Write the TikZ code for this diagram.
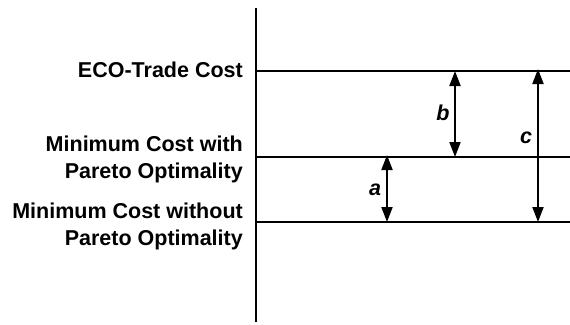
\documentclass[tikz,border=0pt]{standalone}
\usepackage{fontspec}
\setmainfont{Liberation Sans}
\usetikzlibrary{arrows.meta}
\begin{document}
\begin{tikzpicture}[x=1pt,y=-1pt,
  axisline/.style={line width=2.2pt},
  levelline/.style={line width=2.2pt},
  dimarrow/.style={line width=1.9pt,{Triangle[length=15pt,width=11pt]}-{Triangle[length=15pt,width=11pt]}},
  lbl/.style={font=\fontsize{21.5}{27}\selectfont\bfseries,align=right,anchor=east,inner sep=0pt},
  varlbl/.style={font=\fontsize{21.5}{27}\selectfont\bfseries\itshape,inner sep=0pt}]
\useasboundingbox (0,0) rectangle (570,324);
% axis
\coordinate (axT) at (256,8);
\coordinate (axB) at (256,322);
\draw[axisline] (axT) -- (axB);
% levels
\coordinate (L1a) at (256,71);  \coordinate (L1b) at (570,71);
\coordinate (L2a) at (256,157); \coordinate (L2b) at (570,157);
\coordinate (L3a) at (256,222); \coordinate (L3b) at (570,222);
\draw[levelline] (L1a) -- (L1b);
\draw[levelline] (L2a) -- (L2b);
\draw[levelline] (L3a) -- (L3b);
% arrows
\coordinate (bT) at (455,71);  \coordinate (bB) at (455,157);
\coordinate (cT) at (538,69);  \coordinate (cB) at (538,222);
\coordinate (aT) at (387,155); \coordinate (aB) at (387,222);
\draw[dimarrow] (bT) -- (bB);
\draw[dimarrow] (cT) -- (cB);
\draw[dimarrow] (aT) -- (aB);
\node[varlbl] (b) at (443,113) {b};
\node[varlbl] (c) at (526,138) {c};
\node[varlbl] (a) at (375,190) {a};
% labels
\node[lbl] (eco) at (243,70) {ECO-Trade Cost};
\node[lbl] (mcw) at (243,159) {Minimum Cost with\\Pareto Optimality};
\node[lbl] (mcwo) at (243,226) {Minimum Cost without\\Pareto Optimality};
\end{tikzpicture}
\end{document}
